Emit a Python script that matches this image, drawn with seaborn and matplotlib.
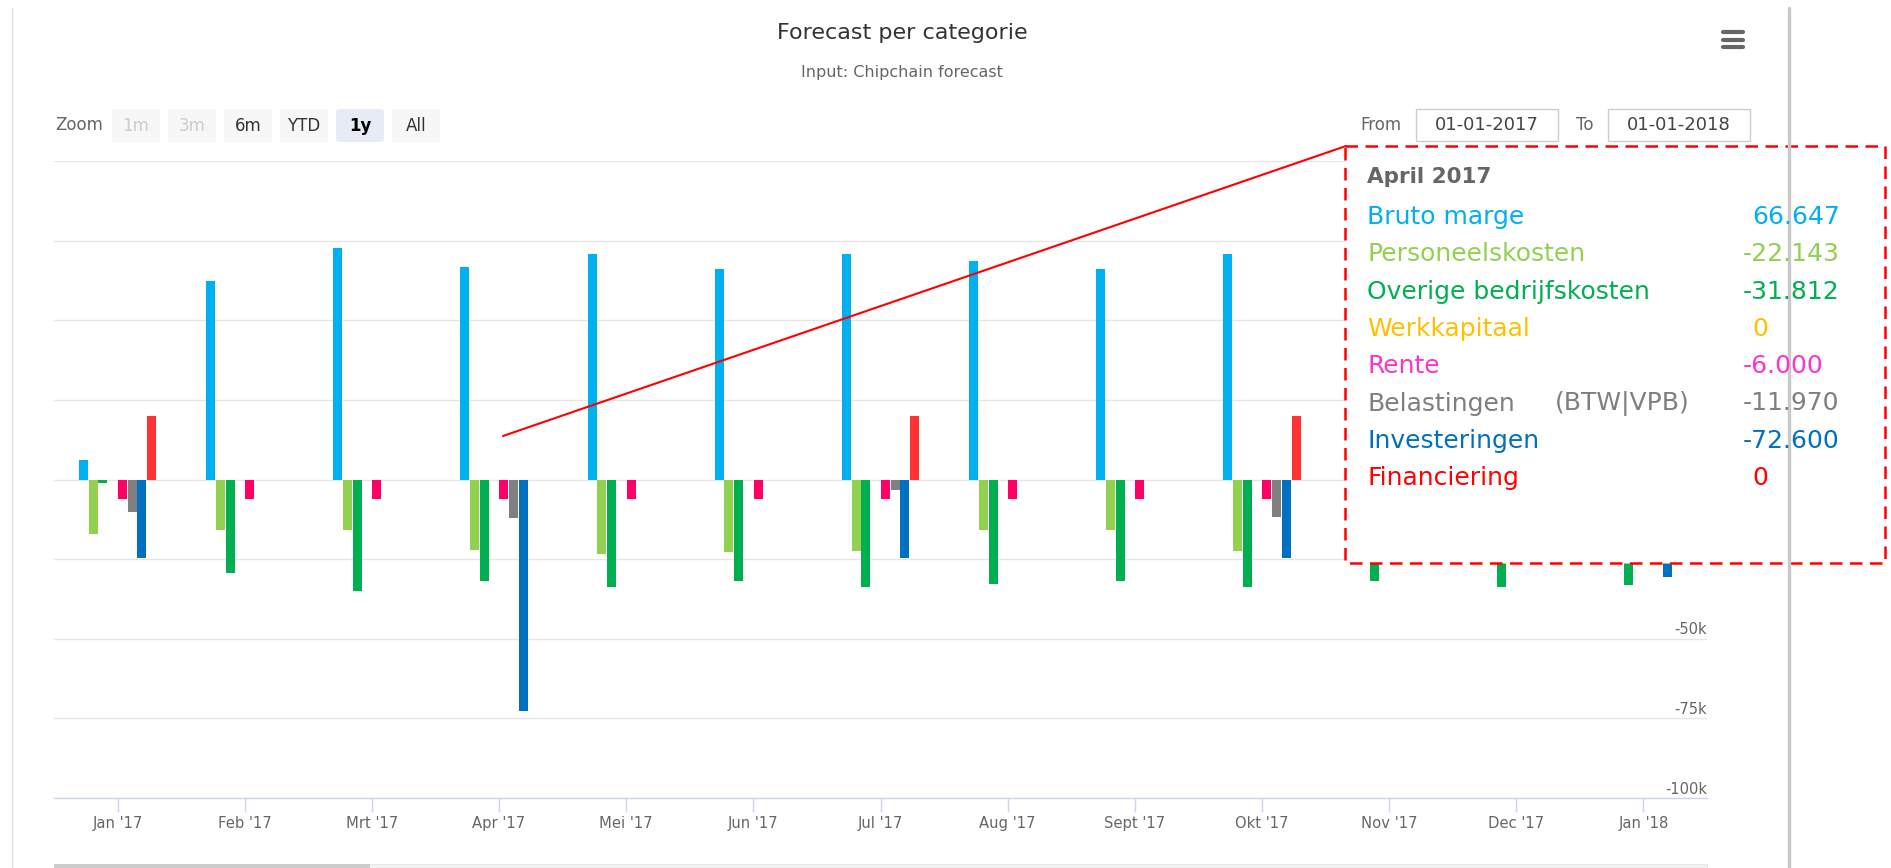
import pandas as pd
import matplotlib.pyplot as plt
import seaborn as sns
from matplotlib.patches import Rectangle, FancyBboxPatch

# data
maanden = ["Jan '17", "Feb '17", "Mrt '17", "Apr '17", "Mei '17", "Jun '17", "Jul '17",
           "Aug '17", "Sept '17", "Okt '17", "Nov '17", "Dec '17", "Jan '18"]
reeksen = ['Bruto marge', 'Personeelskosten', 'Overige bedrijfskosten', 'Werkkapitaal',
           'Rente', 'Belastingen', 'Investeringen', 'Financiering']

bruto_marge = [6000, 62200, 72700, 66647, 70800, 66000, 70800, 68500, 66000, 70800, 68000, 66000, 6000]
personeelskosten = [-17200, -15800, -15800, -22143, -23300, -22900, -22400, -15800, -15800, -22400, -15800, -15800, -17200]
overige_kosten = [-1000, -29500, -34900, -31812, -33900, -32000, -33900, -32900, -32000, -33900, -32000, -33900, -33000]
werkkapitaal = [0] * 13
rente = [-6000] * 13
belastingen = [-10100, 0, 0, -11970, 0, 0, -3300, 0, 0, -11900, 0, 0, -10100]
investeringen = [-24500, 0, 0, -72600, 0, 0, -24500, 0, 0, -24500, 0, 0, -30600]
financiering = [20000, 0, 0, 0, 0, 0, 20000, 0, 0, 20000, 0, 0, 20000]

waarden = [bruto_marge, personeelskosten, overige_kosten, werkkapitaal,
           rente, belastingen, investeringen, financiering]

balk_kleuren = {'Bruto marge': '#00b0f0', 'Personeelskosten': '#92d050',
                'Overige bedrijfskosten': '#00b050', 'Werkkapitaal': '#ffc000',
                'Rente': '#ff0066', 'Belastingen': '#808080',
                'Investeringen': '#0070c0', 'Financiering': '#ff3333'}
tekst_kleuren = {'Bruto marge': '#00b0f0', 'Personeelskosten': '#92d050',
                 'Overige bedrijfskosten': '#00b050', 'Werkkapitaal': '#ffc000',
                 'Rente': '#ff33cc', 'Belastingen': '#7f7f7f',
                 'Investeringen': '#0070c0', 'Financiering': '#ff0000'}

y_ticks = [-100000, -75000, -50000, -25000, 0, 25000, 50000, 75000, 100000]
y_labels_zichtbaar = [-100000, -75000, -50000]  # de rest valt achter de tooltip
tooltip_maand = 3  # April 2017

rows = []
for reeks, vals in zip(reeksen, waarden):
    for m, v in zip(maanden, vals):
        rows.append({'maand': m, 'reeks': reeks, 'waarde': v})
df = pd.DataFrame(rows)

sns.set_theme(style='white')
plt.rcParams['font.family'] = ['DejaVu Sans']

W, H = 1891, 868
fig = plt.figure(figsize=(W / 100, H / 100), dpi=100)
fig.patch.set_facecolor('white')

ax = fig.add_axes([54 / W, 1 - 798 / H, (1707 - 54) / W, (798 - 161) / H])
sns.barplot(data=df, x='maand', y='waarde', hue='reeks', order=maanden, hue_order=reeksen,
            palette=balk_kleuren, width=0.614, gap=0.08, saturation=1, errorbar=None,
            legend=False, linewidth=0, ax=ax)

ax.set_xlim(-0.5, 12.5)
ax.set_ylim(-100000, 100000)
ax.set_yticks(y_ticks)
ax.set_yticklabels([])
ax.tick_params(axis='y', length=0)
ax.grid(axis='y', color='#e6e6e6', lw=1)
ax.grid(axis='x', visible=False)
ax.set_axisbelow(True)
ax.set_xlabel('')
ax.set_ylabel('')
for s in ['top', 'left', 'right']:
    ax.spines[s].set_visible(False)
ax.spines['bottom'].set_color('#ccd6eb')
ax.spines['bottom'].set_linewidth(1)
ax.tick_params(axis='x', bottom=True, length=10, width=1, color='#ccd6eb',
               labelcolor='#666666', labelsize=10.6, pad=3, direction='out')

for v in y_labels_zichtbaar:
    lbl = '0' if v == 0 else f'{v // 1000}k'
    ax.annotate(lbl, xy=(1, v), xycoords=('axes fraction', 'data'), xytext=(0, 9),
                textcoords='offset pixels', ha='right', va='center',
                fontsize=10.5, color='#666666')

# overlay in pixel coordinates voor de pagina-elementen
ov = fig.add_axes([0, 0, 1, 1], zorder=5)
ov.set_xlim(0, W)
ov.set_ylim(H, 0)
ov.axis('off')
ov.patch.set_alpha(0)

ov.plot([12, 12], [8, H], color='#dcdcdc', lw=1)
ov.plot([1789, 1789], [8, H], color='#c8c8c8', lw=2.4)

ov.text(902, 33, 'Forecast per categorie', ha='center', va='center', fontsize=16, color='#333333')
ov.text(902, 73, 'Input: Chipchain forecast', ha='center', va='center', fontsize=11.5, color='#666666')

# zoom knoppen
ov.text(55, 125, 'Zoom', ha='left', va='center', fontsize=12, color='#666666')
knoppen = [('1m', 112, '#f7f7f7', '#cccccc'), ('3m', 168, '#f7f7f7', '#cccccc'),
           ('6m', 224, '#f7f7f7', '#333333'), ('YTD', 280, '#f7f7f7', '#333333'),
           ('1y', 336, '#e6ebf5', '#000000'), ('All', 392, '#f7f7f7', '#333333')]
for tekst, x0, bg, fg in knoppen:
    ov.add_patch(FancyBboxPatch((x0, 109), 48, 33, boxstyle='round,pad=0,rounding_size=3',
                                fc=bg, ec='none'))
    ov.text(x0 + 24, 126, tekst, ha='center', va='center', fontsize=12, color=fg,
            fontweight='bold' if tekst == '1y' else 'normal')

# datum velden
ov.text(1360, 125, 'From', ha='left', va='center', fontsize=12, color='#666666')
ov.add_patch(Rectangle((1416, 109), 142, 32, fc='white', ec='#cccccc', lw=1))
ov.text(1487, 125, '01-01-2017', ha='center', va='center', fontsize=13, color='#444444')
ov.text(1576, 125, 'To', ha='left', va='center', fontsize=12, color='#666666')
ov.add_patch(Rectangle((1608, 109), 142, 32, fc='white', ec='#cccccc', lw=1))
ov.text(1679, 125, '01-01-2018', ha='center', va='center', fontsize=13, color='#444444')

# menu icoon
for yy in [32, 39.5, 47]:
    ov.plot([1723, 1743], [yy, yy], color='#666666', lw=3, solid_capstyle='round')

# scrollbar onderaan
ov.add_patch(Rectangle((54, 864), 1653, 4, fc='#f2f2f2', ec='#e0e0e0', lw=0.5))
ov.add_patch(Rectangle((54, 864), 316, 4, fc='#cccccc', ec='none'))

# annotatie lijn + tooltip
ov.plot([503, 1346], [436, 146], color='#ff0000', lw=1.5)
ov.add_patch(Rectangle((1345, 146), 540, 417, fc='white', ec='#ff0000', lw=1.8,
                       ls=(0, (5, 3))))
ov.text(1367, 177, 'April 2017', ha='left', va='center', fontsize=15.5,
        fontweight='bold', color='#666666')
for i, (reeks, vals) in enumerate(zip(reeksen, waarden)):
    yy = 217 + i * 37.3
    ov.text(1367, yy, reeks, ha='left', va='center', fontsize=18, color=tekst_kleuren[reeks])
    if reeks == 'Belastingen':
        ov.text(1555, yy, '(BTW|VPB)', ha='left', va='center', fontsize=18,
                color=tekst_kleuren[reeks])
    v = vals[tooltip_maand]
    s = f'{v:,.0f}'.replace(',', '.')
    ov.text(1743 if v < 0 else 1752, yy, s, ha='left', va='center', fontsize=18,
            color=tekst_kleuren[reeks])

fig.savefig('out.png', dpi=100, facecolor='white')
